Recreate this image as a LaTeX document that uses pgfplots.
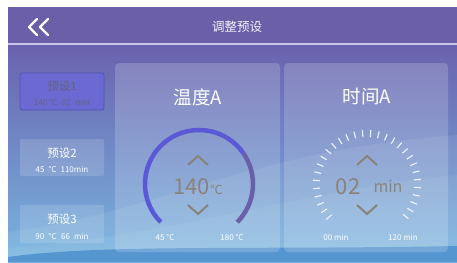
\documentclass[border=0pt]{standalone}
\usepackage{pgfplots}
\pgfplotsset{compat=1.18}
\usepackage{fontspec}
\setmainfont{Noto Sans CJK SC}
\definecolor{hdr}{HTML}{6A5FA8}
\definecolor{hdrline}{HTML}{C9C6EA}
\definecolor{bodytop}{HTML}{6A62AE}
\definecolor{bodymid}{HTML}{6898D6}
\definecolor{bodybot}{HTML}{78B6E0}
\definecolor{bottomband}{HTML}{5696D0}
\definecolor{arcon}{HTML}{5B58D6}
\definecolor{arcoff}{HTML}{6A5FA8}
\definecolor{valgray}{HTML}{8A8379}
\definecolor{selbox}{HTML}{6A6AD2}
\definecolor{selborder}{HTML}{5252B0}
\definecolor{seltext}{HTML}{64627A}
\begin{document}
\begin{tikzpicture}
\begin{axis}[width=457pt,height=262pt,scale only axis,
  xmin=0,xmax=457,ymin=0,ymax=262,y dir=reverse,
  axis lines=none,clip=true]
% page
\fill[white] (axis cs:0,0) rectangle (axis cs:457,262);
% body gradient
\shade[top color=bodytop,middle color=bodymid,bottom color=bodybot] (axis cs:8,46) rectangle (axis cs:457,262);
% waves
\fill[white,opacity=0.08] (axis cs:8,232) .. controls (axis cs:150,215) and (axis cs:250,150) .. (axis cs:457,135) -- (axis cs:457,262) -- (axis cs:8,262) -- cycle;
\fill[white,opacity=0.06] (axis cs:8,248) .. controls (axis cs:180,235) and (axis cs:300,190) .. (axis cs:457,175) -- (axis cs:457,262) -- (axis cs:8,262) -- cycle;
\fill[bottomband] (axis cs:8,257) .. controls (axis cs:100,244) and (axis cs:250,250) .. (axis cs:457,246) -- (axis cs:457,262) -- (axis cs:8,262) -- cycle;
% header
\fill[hdr] (axis cs:8,7) rectangle (axis cs:457,43);
\fill[hdrline] (axis cs:8,43) rectangle (axis cs:457,45.5);
\draw[white,line width=2.4pt,line cap=round,line join=round] (axis cs:37,19) -- (axis cs:29,27) -- (axis cs:37,35);
\draw[white,line width=2.4pt,line cap=round,line join=round] (axis cs:48,19) -- (axis cs:40,27) -- (axis cs:48,35);
\node[text=white!92!hdr,font=\fontsize{12.5}{12.5}\selectfont] at (axis cs:237,27) {调整预设};
% preset buttons
\fill[selbox,draw=selborder,line width=0.8pt,rounded corners=2pt] (axis cs:20,73) rectangle (axis cs:104,110);
\node[text=seltext,font=\fontsize{11.5}{11.5}\selectfont] at (axis cs:62,86) {预设1};
\node[text=seltext,font=\fontsize{8}{8}\selectfont] at (axis cs:62,102.5) {140 °C\hspace{0.6em}02\hspace{0.6em}min};
\fill[white,opacity=0.15,rounded corners=2pt] (axis cs:20,139) rectangle (axis cs:104,176);
\node[text=white,font=\fontsize{11.5}{11.5}\selectfont] at (axis cs:62,153) {预设2};
\node[text=white,font=\fontsize{8}{8}\selectfont] at (axis cs:62,169) {45\hspace{0.5em}°C\hspace{0.5em}110min};
\fill[white,opacity=0.15,rounded corners=2pt] (axis cs:20,205) rectangle (axis cs:104,243);
\node[text=white,font=\fontsize{11.5}{11.5}\selectfont] at (axis cs:62,219) {预设3};
\node[text=white,font=\fontsize{8}{8}\selectfont] at (axis cs:62,236) {90\hspace{0.5em}°C\hspace{0.6em}66\hspace{0.5em}min};
% panels
\fill[white,opacity=0.18,rounded corners=4pt] (axis cs:115,63) rectangle (axis cs:280,252);
\fill[white,opacity=0.18,rounded corners=4pt] (axis cs:284,63) rectangle (axis cs:448,252);
\node[text=white,font=\fontsize{18.5}{18.5}\selectfont] at (axis cs:198,97) {温度A};
\node[text=white,font=\fontsize{18.5}{18.5}\selectfont] at (axis cs:367,97) {时间A};
% temperature gauge: 45..180, value 140
\draw[arcon,line width=4.5pt] (axis cs:199,184) ++(225:54pt) arc[start angle=225,end angle=35,radius=54pt];
\draw[arcoff,line width=4.5pt] (axis cs:199,184) ++(35:54pt) arc[start angle=35,end angle=-45,radius=54pt];
\draw[valgray,line width=2pt,line join=miter] (axis cs:188,165) -- (axis cs:198,156) -- (axis cs:208,165);
\draw[valgray,line width=2pt,line join=miter] (axis cs:188,205) -- (axis cs:198,214) -- (axis cs:208,205);
\node[text=valgray,font=\fontsize{22}{22}\selectfont,inner sep=0pt] at (axis cs:198,187) {140{\fontsize{12.5}{12.5}\selectfont °C}};
\node[text=white,font=\fontsize{8}{8}\selectfont] at (axis cs:165,237) {45 °C};
\node[text=white,font=\fontsize{8}{8}\selectfont] at (axis cs:232,237) {180 °C};
% time dial: 0..120, value 02
\pgfplotsinvokeforeach{-40,-31,...,220}{
  \draw[white!90!bodymid,line width=1.1pt] (axis cs:367,184) ++(#1:47pt) -- ++(#1:7pt);
}
\draw[valgray,line width=2pt,line join=miter] (axis cs:357,165) -- (axis cs:367,156) -- (axis cs:377,165);
\draw[valgray,line width=2pt,line join=miter] (axis cs:357,205) -- (axis cs:367,214) -- (axis cs:377,205);
\node[text=valgray,font=\fontsize{22}{22}\selectfont] at (axis cs:348,187) {02};
\node[text=valgray,font=\fontsize{16}{16}\selectfont] at (axis cs:388,186) {min};
\node[text=white,font=\fontsize{8}{8}\selectfont] at (axis cs:336,237) {00 min};
\node[text=white,font=\fontsize{8}{8}\selectfont] at (axis cs:403,237) {120 min};
\end{axis}
\end{tikzpicture}
\end{document}
